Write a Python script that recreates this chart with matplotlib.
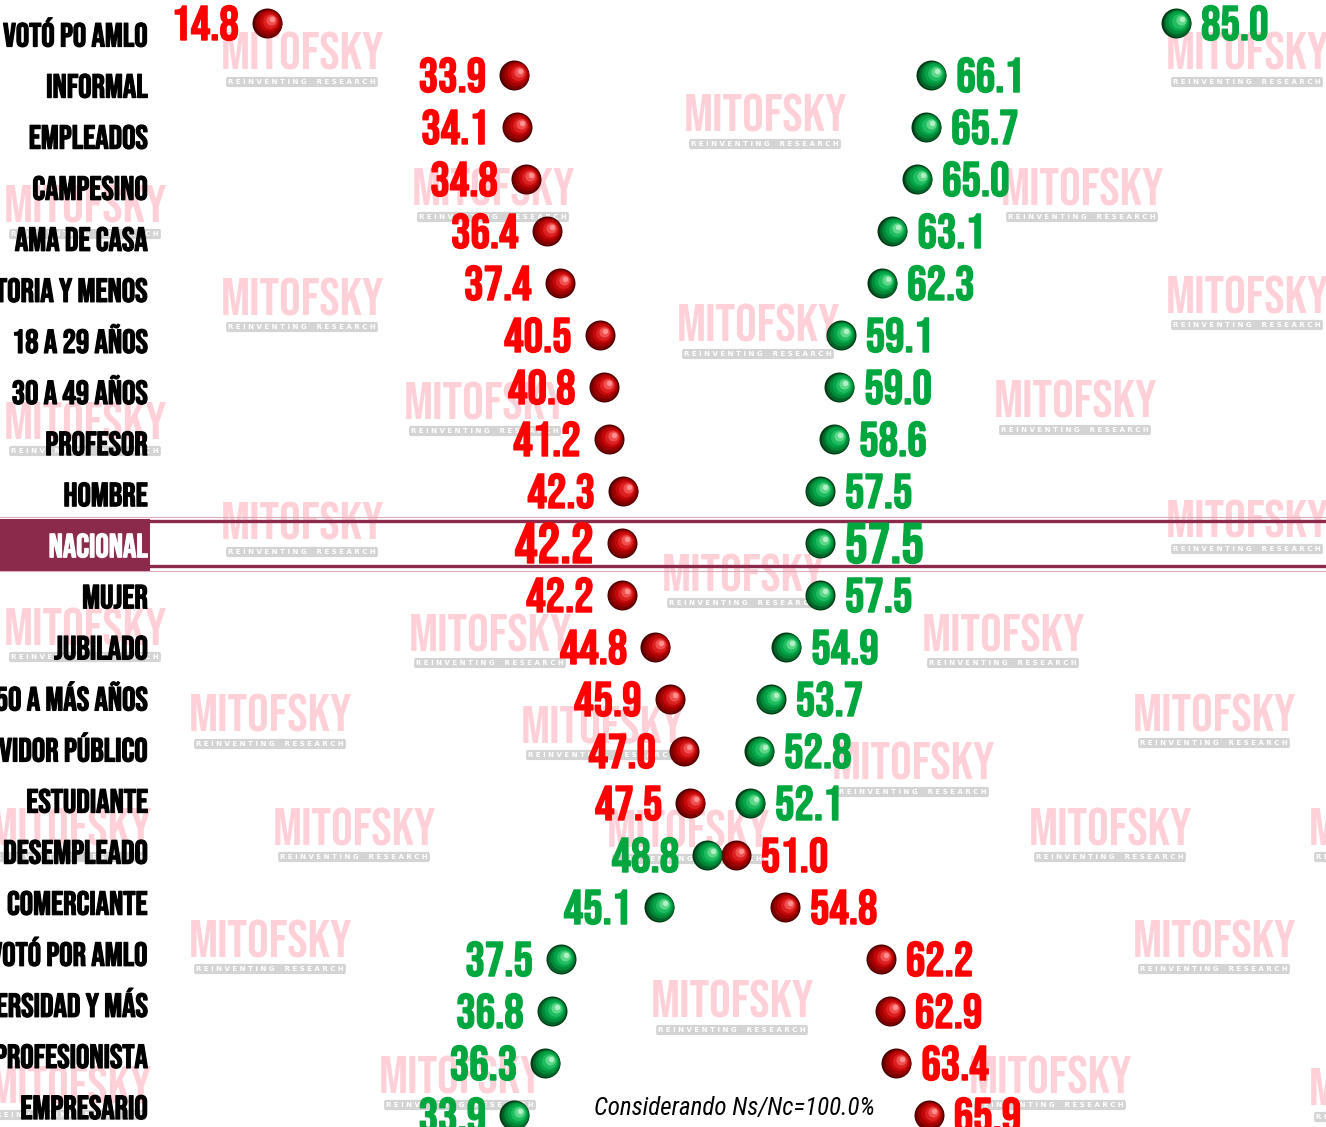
import matplotlib
matplotlib.use('Agg')

import matplotlib.pyplot as plt
import matplotlib.patheffects as pe
from matplotlib.patches import Rectangle
from matplotlib.transforms import ScaledTranslation, blended_transform_factory

FONT = ['Bebas Neue', 'Oswald', 'DejaVu Sans']
NOTE_FONT = ['Roboto Condensed', 'Archivo Narrow', 'DejaVu Sans']

CATEGORIES = [
    'VOTÓ PO AMLO', 'INFORMAL', 'EMPLEADOS', 'CAMPESINO', 'AMA DE CASA',
    'PREPARATORIA Y MENOS', '18 A 29 AÑOS', '30 A 49 AÑOS', 'PROFESOR',
    'HOMBRE', 'NACIONAL', 'MUJER', 'JUBILADO', '50 A MÁS AÑOS',
    'SERVIDOR PÚBLICO', 'ESTUDIANTE', 'DESEMPLEADO', 'COMERCIANTE',
    'NO VOTÓ POR AMLO', 'UNIVERSIDAD Y MÁS', 'PROFESIONISTA', 'EMPRESARIO',
]
RED_VALUES = [14.8, 33.9, 34.1, 34.8, 36.4, 37.4, 40.5, 40.8, 41.2, 42.3, 42.2,
              42.2, 44.8, 45.9, 47.0, 47.5, 51.0, 54.8, 62.2, 62.9, 63.4, 65.9]
GREEN_VALUES = [85.0, 66.1, 65.7, 65.0, 63.1, 62.3, 59.1, 59.0, 58.6, 57.5, 57.5,
                57.5, 54.9, 53.7, 52.8, 52.1, 48.8, 45.1, 37.5, 36.8, 36.3, 33.9]
HIGHLIGHT = 'NACIONAL'
NOTE = 'Considerando Ns/Nc=100.0%'

# watermark centres in pixels (x, y from top)
WATERMARKS = [
    (302, 55), (1247, 55), (765, 117), (85, 207), (493, 190), (1082, 190),
    (302, 300), (1247, 298), (758, 327), (485, 404), (1075, 403), (85, 424),
    (302, 525), (1247, 522), (743, 576), (490, 636), (1003, 636), (85, 630),
    (270, 717), (1214, 716), (602, 728), (913, 765), (70, 830), (354, 830),
    (688, 832), (1110, 830), (1390, 830), (270, 942), (1214, 942), (732, 1003),
    (460, 1078), (1050, 1078), (70, 1088), (1390, 1090),
]

W, H = 1326, 1127
RED_SHADES = ['#4a0000', '#7a0000', '#a00000', '#c20808', '#dc2020', '#f05050', '#ff9090']
GREEN_SHADES = ['#003a14', '#006428', '#008a38', '#04a448', '#20bc60', '#60d88a', '#b0f0c4']
MAROON = '#8b2a4b'


def draw_balls(ax, xs, ys, shades, diam_px=30):
    # fake 3d sphere: stacked circles shifted toward the upper right
    fracs = [1.0, 0.92, 0.8, 0.66, 0.5, 0.34, 0.18]
    r_in = diam_px / 2 / 100
    for frac, col in zip(fracs, shades):
        shift = (1 - frac) * r_in
        off = ScaledTranslation(0.45 * shift, 0.3 * shift, ax.figure.dpi_scale_trans)
        size = (diam_px * frac * 0.72) ** 2
        ax.scatter(xs, ys, s=size, color=col, linewidths=0,
                   transform=ax.transData + off, zorder=5)


def thick(col, lw=1.0):
    return [pe.withStroke(linewidth=lw, foreground=col)]


fig = plt.figure(figsize=(W / 100, H / 100), dpi=100)
ax = fig.add_axes([0, 0, 1, 1])
ax.set_xlim((0 - 75.3) / 12.95, (W - 75.3) / 12.95)
ax.set_ylim((H - 23) / 52, -23 / 52)
ax.axis('off')

# watermarks, behind everything
for wx, wy in WATERMARKS:
    ax.text(wx / W, 1 - (wy + 15) / H, 'MITOFSKY', color='#ffd0d8', fontsize=39,
            family=FONT, ha='center', va='baseline', zorder=0.5,
            transform=ax.transAxes, clip_on=False)
    ax.text(wx / W, 1 - (wy + 27) / H, 'R E I N V E N T I N G    R E S E A R C H',
            color='white', fontsize=5, fontweight='bold', family=['DejaVu Sans'],
            ha='center', va='center', zorder=0.6, transform=ax.transAxes,
            bbox=dict(boxstyle='round,pad=0.3', fc='#d4d4d4', ec='none'))

rows = list(range(len(CATEGORIES)))
hi = CATEGORIES.index(HIGHLIGHT)
lab_x = 148 / W
btrans = blended_transform_factory(ax.transAxes, ax.transData)

# highlight band for NACIONAL
ax.add_patch(Rectangle((0, hi - 0.46), 150 / W, 0.99, transform=btrans,
                       color=MAROON, zorder=2, lw=0))
for yy in (hi - 0.5, hi + 0.53):
    ax.plot([0, 1], [yy, yy], transform=btrans, color='#dcaabb', lw=0.8, zorder=1)
for yy in (hi - 0.42, hi + 0.45):
    ax.plot([150 / W, 1], [yy, yy], transform=btrans, color=MAROON, lw=2.4, zorder=2)

draw_balls(ax, RED_VALUES, rows, RED_SHADES)
draw_balls(ax, GREEN_VALUES, rows, GREEN_SHADES)

for i, cat in enumerate(CATEGORIES):
    is_hi = i == hi
    lab_col = 'white' if is_hi else 'black'
    # the category column is spaced a little tighter than the dot rows
    lab_y = 1 - (46.5 + 51.07 * i) / H
    ax.text(lab_x, lab_y, cat, transform=ax.transAxes, ha='right', va='baseline',
            fontsize=24, family=FONT, color=lab_col, zorder=6,
            path_effects=thick(lab_col, 0.9))
    fs = 41 if is_hi else 35
    base = -20 if is_hi else -17
    r, g = RED_VALUES[i], GREEN_VALUES[i]
    for val, col in ((r, '#ff0000'), (g, '#00a63e')):
        left = val < (g if val == r else r)
        ax.annotate(f'{val:.1f}', xy=(val, i), xytext=(-28 if left else 25, base),
                    textcoords='offset pixels', ha='right' if left else 'left',
                    va='baseline', fontsize=fs, family=FONT,
                    color=col, zorder=6, path_effects=thick(col, 1.0))

ax.text(734 / W, 1 - 1108 / H, NOTE, fontsize=18, style='italic', family=NOTE_FONT,
        ha='center', va='center', color='black', zorder=6, transform=ax.transAxes)

fig.savefig('out.png', dpi=100)
